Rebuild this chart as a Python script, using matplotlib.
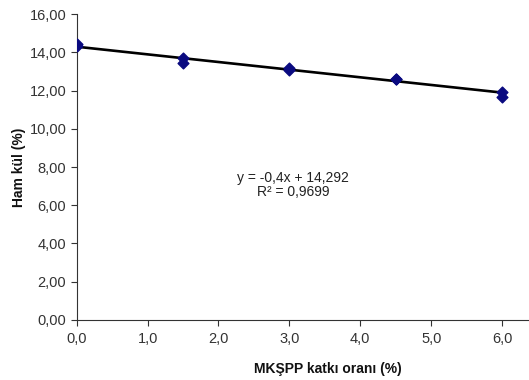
import numpy as np
import matplotlib.pyplot as plt
from matplotlib.ticker import FuncFormatter

# === Data ===
katki = [0.0, 0.0, 1.5, 1.5, 3.0, 3.0, 4.5, 4.5, 6.0, 6.0]
ham_kul = [14.45, 14.35, 13.68, 13.42, 13.19, 13.05, 12.60, 12.58, 11.94, 11.68]
slope = -0.4
intercept = 14.292
r2 = 0.9699

plt.rcParams['font.family'] = ['Liberation Sans', 'DejaVu Sans']

fig = plt.figure(figsize=(5.29, 3.8), dpi=100)
ax = fig.add_axes([0.145, 0.158, 0.855, 0.805])

# trend line
xl = np.array([0.0, 6.0])
ax.plot(xl, slope * xl + intercept, color='black', lw=1.9, zorder=2)
ax.scatter(katki, ham_kul, marker='D', s=30, color='#0a0a80', zorder=3)

eq = f"y = {slope:.1f}x + {intercept:.3f}".replace('.', ',')
ax.text(3.05, 7.06, eq + "\n" + f"R² = {r2:.4f}".replace('.', ','),
        ha='center', va='center', fontsize=10, color='#222222', linespacing=1.05)

ax.set_xlim(0, 6.38)
ax.set_ylim(0, 16)
ax.set_xticks(np.arange(0, 7, 1.0))
ax.set_yticks(np.arange(0, 17, 2.0))
ax.xaxis.set_major_formatter(FuncFormatter(lambda v, p: f"{v:.1f}".replace('.', ',')))
ax.yaxis.set_major_formatter(FuncFormatter(lambda v, p: f"{v:.2f}".replace('.', ',')))
ax.tick_params(direction='out', length=4, width=0.8, labelsize=10.5, colors='#333333')
ax.tick_params(axis='x', pad=5)
for s in ['top', 'right']:
    ax.spines[s].set_visible(False)
for s in ['left', 'bottom']:
    ax.spines[s].set_color('#333333')
    ax.spines[s].set_linewidth(0.8)

ax.set_xlabel("MKŞPP katkı oranı (%)", fontsize=10, fontweight='bold', color='#111111')
ax.set_ylabel("Ham kül (%)", fontsize=10, fontweight='bold', color='#111111')
ax.xaxis.set_label_coords(0.556, -0.137)
ax.yaxis.set_label_coords(-0.112, 0.5)

fig.savefig("out.png", dpi=100)
